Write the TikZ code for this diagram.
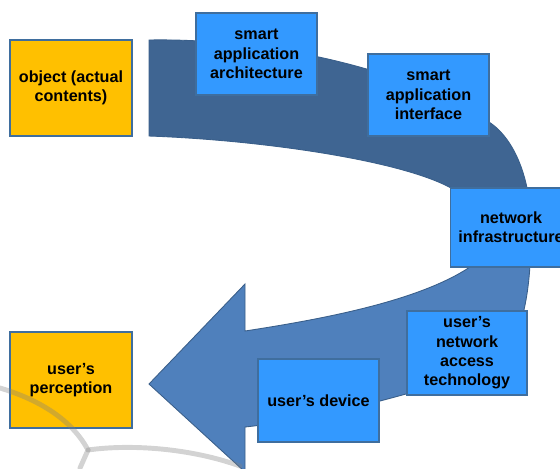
\documentclass[tikz,border=0pt]{standalone}
\usepackage{fontspec}
\setmainfont{Liberation Sans}
\definecolor{boxorange}{HTML}{FFC000}
\definecolor{boxblue}{HTML}{3399FF}
\definecolor{boxline}{HTML}{3F6E9E}
\definecolor{banddark}{HTML}{3F6592}
\definecolor{bandlight}{HTML}{4F80BC}
\definecolor{bandline}{HTML}{3A5F8A}
\begin{document}
\begin{tikzpicture}[x=0.02cm, y=-0.02cm,
    endpoint/.style={rectangle, draw=boxline, line width=0.8pt, fill=boxorange, minimum width=2.44cm, minimum height=1.92cm, align=center, font=\fontsize{9.2}{11}\selectfont\bfseries},
    layer/.style={rectangle, draw=boxline, line width=0.8pt, fill=boxblue, minimum width=2.42cm, minimum height=1.64cm, align=center, font=\fontsize{9.2}{11}\selectfont\bfseries},
    band/.style={draw=bandline, line width=0.5pt}
]
    \useasboundingbox (0,0) rectangle (560,468);

    % Curved band: upper (far) half
    \path[band, fill=banddark] (149,40) .. controls (260,38) and (400,65) .. (489,122)
        .. controls (515,139) and (531,180) .. (531,228) -- (481,228)
        .. controls (481,214) and (472,200) .. (451,188)
        .. controls (400,160) and (260,140) .. (149,136) -- cycle;

    % Curved band: lower (near) half with the arrow head
    \path[band, fill=bandlight] (531,228) .. controls (531,270) and (528,295) .. (522,318)
        .. controls (500,370) and (440,385) .. (380,401)
        .. controls (330,414) and (290,422) .. (245,427)
        -- (245,472) -- (149,384) -- (245,284) -- (245,331)
        .. controls (330,318) and (420,300) .. (470,267)
        .. controls (476,258) and (481,245) .. (481,228) -- cycle;

    % Left side: content and perception
    \node[endpoint] (obj) at (71,88) {object (actual\\contents)};
    \node[endpoint] (perc) at (71,380) {user’s\\perception};

    % Chain of layers along the band
    \node[layer] (arch) at (256.5,54) {smart\\application\\architecture};
    \node[layer] (api) at (428.5,95) {smart\\application\\interface};
    \node[layer, minimum height=1.58cm] (net) at (511,227.5) {network\\infrastructure};
    \node[layer, minimum width=2.4cm] (acc) at (467,353) {user’s\\network\\access\\technology};
    \node[layer, minimum height=1.66cm] (dev) at (318.5,400.5) {user’s device};

    % Faint logo strokes in the corner
    \draw[gray, opacity=0.35, line width=2.8pt, line cap=round]
        (0,388) .. controls (40,400) and (72,420) .. (88,450) -- (80,468);
    \draw[gray, opacity=0.35, line width=2.8pt, line cap=round]
        (88,450) .. controls (130,444) and (190,448) .. (240,466);
\end{tikzpicture}
\end{document}
